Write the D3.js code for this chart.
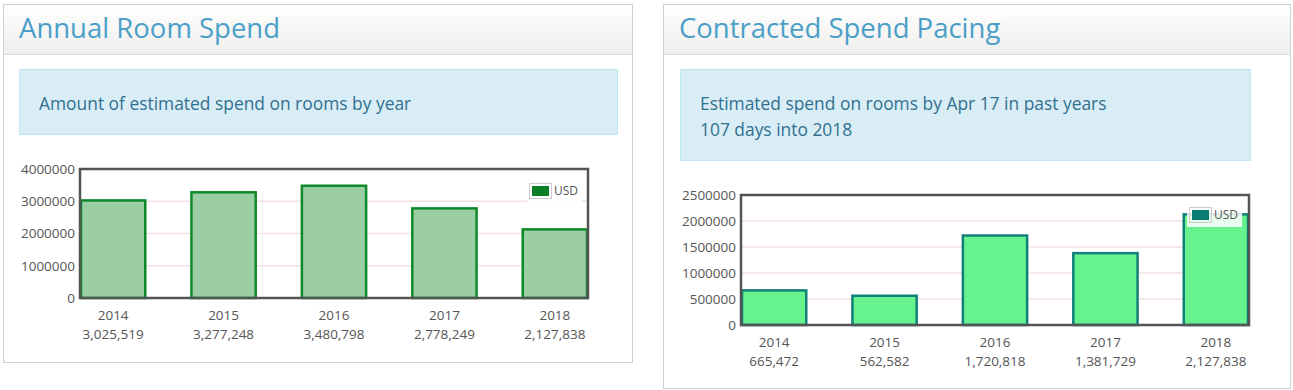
<!DOCTYPE html>
<html>
<head>
<meta charset="utf-8">
<script src="https://cdn.jsdelivr.net/npm/d3@7"></script>
<style>
  body { margin: 0; background: #fff; font-family: "Open Sans", sans-serif; }
  .panel { position: absolute; border: 1px solid #d0d0d0; background: #fff; box-sizing: border-box; }
  .panel-head { position: absolute; left: 0; right: 0; top: 0; height: 49px;
    background: linear-gradient(#ffffff, #efeeec); border-bottom: 1px solid #dcdcdc; }
  .panel-head h2 { margin: 0; position: absolute; left: 15px; top: 4px;
    font-weight: 400; font-size: 27.5px; color: #4a9fc9; letter-spacing: 0; }
  .info { position: absolute; background: #d9edf7; border: 1px solid #bce8f1; color: #31708f;
    font-size: 17.4px; box-sizing: border-box; line-height: 26px; padding: 20px 19px; }
  svg { position: absolute; left: 0; top: 0; }
  .tick-label { font-size: 13.5px; fill: #555; }
</style>
</head>
<body>
<div class="panel" style="left:3px; top:4px; width:630px; height:359px;">
  <div class="panel-head"><h2>Annual Room Spend</h2></div>
  <div class="info" style="left:15px; top:64px; width:599px; height:66px;">Amount of estimated spend on rooms by year</div>
</div>
<div class="panel" style="left:663px; top:4px; width:628px; height:385px;">
  <div class="panel-head"><h2>Contracted Spend Pacing</h2></div>
  <div class="info" style="left:16px; top:64px; width:571px; height:92px;">Estimated spend on rooms by Apr 17 in past years<br>107 days into 2018</div>
</div>
<svg id="chart" width="1293" height="390"></svg>
<script>
// years shown on both charts
var years = ["2014", "2015", "2016", "2017", "2018"];

// annual room spend (USD)
var annualSpend = [3025519, 3277248, 3480798, 2778249, 2127838];
var annualTicks = [0, 1000000, 2000000, 3000000, 4000000];

// contracted spend pacing (USD), by Apr 17 each year
var pacingSpend = [665472, 562582, 1720818, 1381729, 2127838];
var pacingTicks = [0, 500000, 1000000, 1500000, 2000000, 2500000];

var svg = d3.select("#chart");
var fmt = d3.format(",");

function drawChart(opts) {
  var g = svg.append("g");

  var x = d3.scaleLinear()
    .domain([-0.3, years.length - 1 + 0.3])
    .range([opts.left, opts.right]);

  var y = d3.scaleLinear()
    .domain([0, opts.max])
    .range([opts.bottom, opts.top]);

  var barW = x(0.6) - x(0);

  // grid lines
  g.selectAll(".grid")
    .data(opts.ticks.slice(1, -1))
    .enter()
    .append("line")
    .attr("x1", opts.left)
    .attr("x2", opts.right)
    .attr("y1", d => y(d))
    .attr("y2", d => y(d))
    .attr("stroke", "#f2e1e1")
    .attr("stroke-width", 1.5);

  // bars
  g.selectAll(".bar")
    .data(opts.values)
    .enter()
    .append("rect")
    .attr("x", (d, i) => x(i) - barW / 2 + 1)
    .attr("y", d => y(d))
    .attr("width", barW - 2)
    .attr("height", d => y(0) - y(d))
    .attr("fill", opts.fill)
    .attr("stroke", opts.stroke)
    .attr("stroke-width", 2.5);

  // y tick labels
  var leftAxis = d3.axisLeft(y).tickValues(opts.ticks).tickFormat(d3.format("d"))
    .tickSize(0).tickPadding(5);
  var ax = g.append("g")
    .attr("transform", `translate(${opts.left}, 0)`)
    .call(leftAxis);
  ax.select(".domain").remove();
  ax.selectAll("text")
    .attr("class", "tick-label")
    .attr("font-family", "Open Sans, sans-serif")
    .attr("fill", "#555");

  // frame
  g.append("rect")
    .attr("x", opts.left)
    .attr("y", opts.top)
    .attr("width", opts.right - opts.left)
    .attr("height", opts.bottom - opts.top)
    .attr("fill", "none")
    .attr("stroke", "#545454")
    .attr("stroke-width", 2.5);

  // x labels: year and value
  var lab = g.selectAll(".xlab")
    .data(years)
    .enter()
    .append("g")
    .attr("transform", (d, i) => `translate(${x(i)}, ${opts.bottom})`);
  lab.append("text")
    .attr("class", "tick-label")
    .attr("text-anchor", "middle")
    .attr("y", 22)
    .text(d => d);
  lab.append("text")
    .attr("class", "tick-label")
    .attr("text-anchor", "middle")
    .attr("y", 41)
    .text((d, i) => fmt(opts.values[i]));

  // legend
  var lg = g.append("g").attr("transform", `translate(${opts.legendX}, ${opts.legendY})`);
  lg.append("rect")
    .attr("x", -2).attr("y", -3)
    .attr("width", 55).attr("height", 23)
    .attr("fill", "#fff").attr("opacity", 0.85);
  lg.append("rect")
    .attr("x", 0.5).attr("y", 0.5)
    .attr("width", 22).attr("height", 15)
    .attr("fill", "none").attr("stroke", "#ccc");
  lg.append("rect")
    .attr("x", 3).attr("y", 3)
    .attr("width", 17).attr("height", 10)
    .attr("fill", opts.legendColor);
  lg.append("text")
    .attr("x", 25).attr("y", 12)
    .attr("font-size", 12)
    .attr("fill", "#555")
    .text("USD");
}

drawChart({
  values: annualSpend, ticks: annualTicks, max: 4000000,
  left: 80, right: 588, top: 169, bottom: 298,
  fill: "#9bcea4", stroke: "#0c8a2a", legendColor: "#0b7f25",
  legendX: 529, legendY: 183
});

drawChart({
  values: pacingSpend, ticks: pacingTicks, max: 2500000,
  left: 741, right: 1249, top: 195, bottom: 325,
  fill: "#66f28c", stroke: "#12807a", legendColor: "#0a7c74",
  legendX: 1189, legendY: 207
});
</script>
</body>
</html>
